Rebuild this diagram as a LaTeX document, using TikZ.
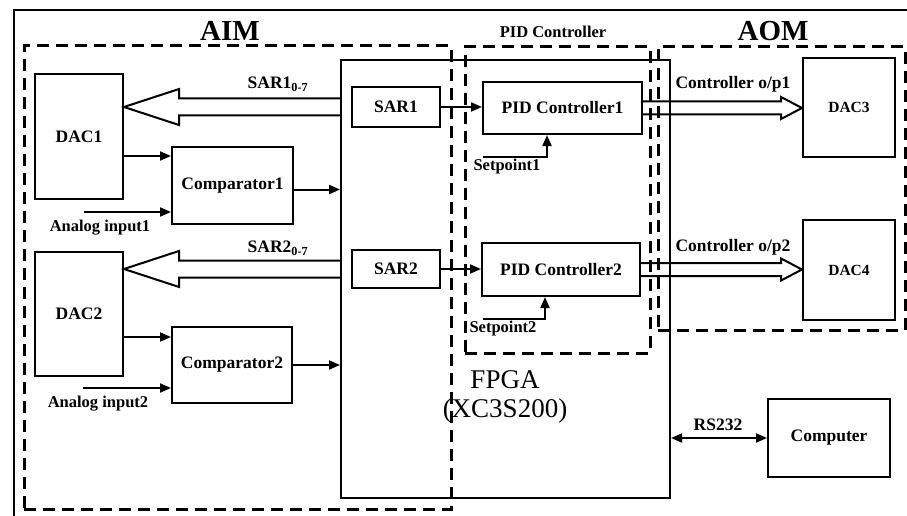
\documentclass[tikz,border=0pt]{standalone}
\usepackage{fontspec}
\setmainfont{Liberation Serif}
\usetikzlibrary{arrows.meta,calc}
\begin{document}
\begin{tikzpicture}[x=1pt,y=-1pt,
  box/.style={draw,line width=2pt,inner sep=0pt,font=\fontsize{17.5}{20}\bfseries\selectfont,align=center},
  dbox/.style={draw,line width=3pt,dash pattern=on 12pt off 7pt,inner sep=0pt},
  lbl/.style={inner sep=0pt,font=\fontsize{17.5}{20}\bfseries\selectfont},
  slbl/.style={inner sep=0pt,font=\fontsize{16.5}{18}\bfseries\selectfont},
  big/.style={inner sep=0pt,font=\fontsize{29}{32}\bfseries\selectfont},
  arr/.style={line width=2pt,-{Triangle[length=11pt,width=9pt]}},
  wide/.style={line width=2pt,line join=miter}]
\useasboundingbox (0,0) rectangle (907,516);
\fill[white] (0,0) rectangle (907,516);
% outer frame
\coordinate (fa) at (14,516); \coordinate (fb) at (14,10); \coordinate (fc) at (907,10);
\draw[line width=1.5pt] (fa) -- (fb) -- (fc);
% FPGA
\node[draw,line width=2pt,minimum width=329pt,minimum height=438pt] (fpga) at (505.5,279) {};
\node[inner sep=0pt,align=center,font=\fontsize{27}{29}\selectfont] (fpgal) at (505,397) {FPGA\\(XC3S200)};
% dashed groups
\node[dbox,minimum width=427pt,minimum height=463pt] (aim) at (237.5,277.5) {};
\node[dbox,minimum width=185pt,minimum height=306pt] (pid) at (557.5,200) {};
\node[dbox,minimum width=247pt,minimum height=283pt] (aom) at (781.5,188.5) {};
\node[big] (aiml) at (230,31) {AIM};
\node[big] (aoml) at (773,31) {AOM};
\node[slbl] (pidl) at (553,32) {PID Controller};
% blocks
\node[box,minimum width=88pt,minimum height=125pt] (dac1) at (79,136.5) {DAC1};
\node[box,minimum width=88pt,minimum height=124pt] (dac2) at (79,314) {DAC2};
\node[box,minimum width=121pt,minimum height=77pt] (c1) at (232.5,185.5) {Comparator1};
\node[box,minimum width=120pt,minimum height=76pt] (c2) at (232,365) {Comparator2};
\node[box,minimum width=88pt,minimum height=40pt] (sar1) at (396,107) {SAR1};
\node[box,minimum width=88pt,minimum height=38pt] (sar2) at (396,269) {SAR2};
\node[box,minimum width=159pt,minimum height=52pt] (pid1) at (562.5,108) {PID Controller1};
\node[box,minimum width=158pt,minimum height=53pt] (pid2) at (561,269.5) {PID Controller2};
\node[box,minimum width=92pt,minimum height=99pt,font=\fontsize{15.5}{18}\bfseries\selectfont] (dac3) at (849,107.5) {DAC3};
\node[box,minimum width=92pt,minimum height=100pt,font=\fontsize{15.5}{18}\bfseries\selectfont] (dac4) at (849,270) {DAC4};
\node[box,minimum width=122pt,minimum height=78pt] (comp) at (829,438) {Computer};
% labels
\node[lbl] (s1l) at (278,84) {SAR1\textsubscript{0-7}};
\node[lbl] (s2l) at (278,248) {SAR2\textsubscript{0-7}};
\node[lbl] (o1l) at (733,84) {Controller o/p1};
\node[lbl] (o2l) at (733,247) {Controller o/p2};
\node[slbl] (a1l) at (100,228) {Analog input1};
\node[slbl] (a2l) at (98,404) {Analog input2};
\node[slbl] (sp1l) at (507,167) {Setpoint1};
\node[slbl] (sp2l) at (503,329) {Setpoint2};
\node[lbl] (rsl) at (718,425) {RS232};
% wide arrows SAR -> DAC
\coordinate (w1s) at (fpga.west |- sar1); \coordinate (w1t) at (dac1.east |- sar1);
\draw[wide] ([yshift=8.5pt]w1s) -- ([shift={(55pt,8.5pt)}]w1t) -- ([shift={(55pt,18pt)}]w1t) -- (w1t)
  -- ([shift={(55pt,-18pt)}]w1t) -- ([shift={(55pt,-8.5pt)}]w1t) -- ([yshift=-8.5pt]w1s);
\coordinate (w2s) at (fpga.west |- sar2); \coordinate (w2t) at (dac2.east |- sar2);
\draw[wide] ([yshift=8.5pt]w2s) -- ([shift={(55pt,8.5pt)}]w2t) -- ([shift={(55pt,18pt)}]w2t) -- (w2t)
  -- ([shift={(55pt,-18pt)}]w2t) -- ([shift={(55pt,-8.5pt)}]w2t) -- ([yshift=-8.5pt]w2s);
% wide arrows PID -> DAC
\coordinate (o1t) at (dac3.west |- pid1);
\draw[wide] ([yshift=6.5pt]pid1.east) -- ([shift={(-21pt,6.5pt)}]o1t) -- ([shift={(-21pt,11pt)}]o1t) -- (o1t)
  -- ([shift={(-21pt,-11pt)}]o1t) -- ([shift={(-21pt,-6.5pt)}]o1t) -- ([yshift=-6.5pt]pid1.east);
\coordinate (o2t) at (dac4.west |- pid2);
\draw[wide] ([yshift=6.5pt]pid2.east) -- ([shift={(-21pt,6.5pt)}]o2t) -- ([shift={(-21pt,11pt)}]o2t) -- (o2t)
  -- ([shift={(-21pt,-11pt)}]o2t) -- ([shift={(-21pt,-6.5pt)}]o2t) -- ([yshift=-6.5pt]pid2.east);
% signal arrows
\coordinate (d1c) at ([yshift=-10pt]c1.north west);
\draw[arr] (dac1.east |- d1c) -- (d1c);
\coordinate (a1) at (84,212);
\draw[arr] (a1) -- (c1.west |- a1);
\coordinate (c1o) at ([yshift=-4pt]c1.east);
\draw[arr] (c1o) -- (fpga.west |- c1o);
\coordinate (d2c) at ([yshift=-11pt]c2.north west);
\draw[arr] (dac2.east |- d2c) -- (d2c);
\coordinate (a2) at (83,388);
\draw[arr] (a2) -- (c2.west |- a2);
\draw[arr] (c2.east) -- (fpga.west |- c2.east);
\draw[arr] (sar1.east) -- (pid1.west |- sar1.east);
\draw[arr] (sar2.east) -- (pid2.west |- sar2.east);
\coordinate (sp1) at (483,157); \coordinate (sp1b) at (547,157);
\draw[arr] (sp1) -- (sp1b) -- (sp1b |- pid1.south);
\coordinate (sp2) at (483,319); \coordinate (sp2b) at (545,319);
\draw[arr] (sp2) -- (sp2b) -- (sp2b |- pid2.south);
\draw[line width=2pt,{Triangle[length=11pt,width=9pt]}-{Triangle[length=11pt,width=9pt]}] (fpga.east |- comp.west) -- (comp.west);
\end{tikzpicture}
\end{document}
